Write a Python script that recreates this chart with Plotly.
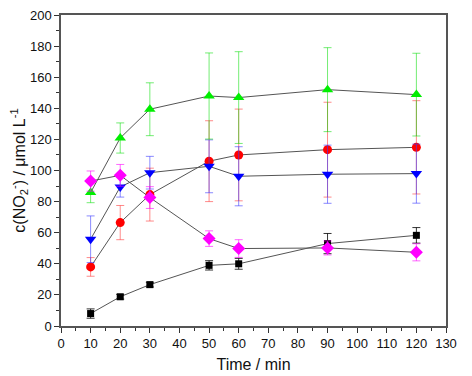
import plotly.graph_objects as go

time_min = [10, 20, 30, 50, 60, 90, 120]

black_vals = [8, 18.8, 26.6, 39, 40, 53, 58.3]
black_err = [3, 1.5, 1.5, 3, 3.5, 6.5, 5]

red_vals = [38, 66.5, 84.5, 106, 110, 113.4, 114.9]
red_err = [6, 11, 17, 26, 29.5, 30.5, 30]

blue_vals = [55.8, 89.4, 98.6, 102.7, 96.3, 97.6, 98]
blue_err = [15, 6.5, 10.5, 17, 19, 18.7, 19]

green_vals = [85.8, 120.9, 139.4, 147.9, 146.9, 152, 148.8]
green_err = [6.5, 9.7, 17, 27.7, 29.5, 27, 26.6]

magenta_vals = [93.2, 96.9, 82.6, 56.2, 49.8, 50.2, 47.4]
magenta_err = [6.5, 7, 7, 5, 5.7, 4.5, 5.5]

series = [
    (black_vals, black_err, "#000000", "rgba(0,0,0,0.8)", "square", 7),
    (red_vals, red_err, "#ff0000", "rgba(255,60,60,0.6)", "circle", 9),
    (blue_vals, blue_err, "#0000ff", "rgba(60,60,255,0.6)", "triangle-down", 10),
    (green_vals, green_err, "#00ee00", "rgba(0,220,0,0.55)", "triangle-up", 10),
    (magenta_vals, magenta_err, "#ff00ff", "rgba(255,0,255,0.6)", "diamond", 10),
]

fig = go.Figure()
for vals, err, col, ecol, sym, sz in series:
    fig.add_trace(go.Scatter(
        x=time_min, y=vals, mode="lines+markers",
        line=dict(color="#555555", width=1),
        marker=dict(symbol=sym, size=sz, color=col, line=dict(width=0)),
        error_y=dict(type="data", array=err, visible=True, color=ecol, thickness=1, width=4),
        showlegend=False,
    ))

font_fam = "Liberation Sans, Arial"
axis_common = dict(
    showline=True, linecolor="#555555", linewidth=1.5, mirror=True,
    ticks="outside", ticklen=5, tickcolor="#333333", tickwidth=1,
    showgrid=False, zeroline=False, automargin=False,
    ticklabeloverflow="allow",
    tickfont=dict(family=font_fam, size=13, color="#111111"),
)

fig.update_xaxes(
    range=[0, 130], dtick=10, tick0=0,
    minor=dict(ticks="outside", dtick=5, ticklen=3, tickcolor="#333333"),
    title=dict(text="Time / min", font=dict(family=font_fam, size=16, color="#111111"), standoff=8),
    **axis_common,
)
fig.update_yaxes(
    range=[0, 200], dtick=20, tick0=0,
    minor=dict(ticks="outside", dtick=10, ticklen=3, tickcolor="#333333"),
    title=dict(text="c(NO<sub>2</sub><sup>-</sup>) / μmol L<sup>-1</sup>",
               font=dict(family=font_fam, size=16, color="#111111"), standoff=6),
    **axis_common,
)

fig.update_layout(
    width=464, height=368,
    margin=dict(l=53, r=26, t=7, b=50),
    paper_bgcolor="white", plot_bgcolor="white",
)

fig.write_html("out.html")
